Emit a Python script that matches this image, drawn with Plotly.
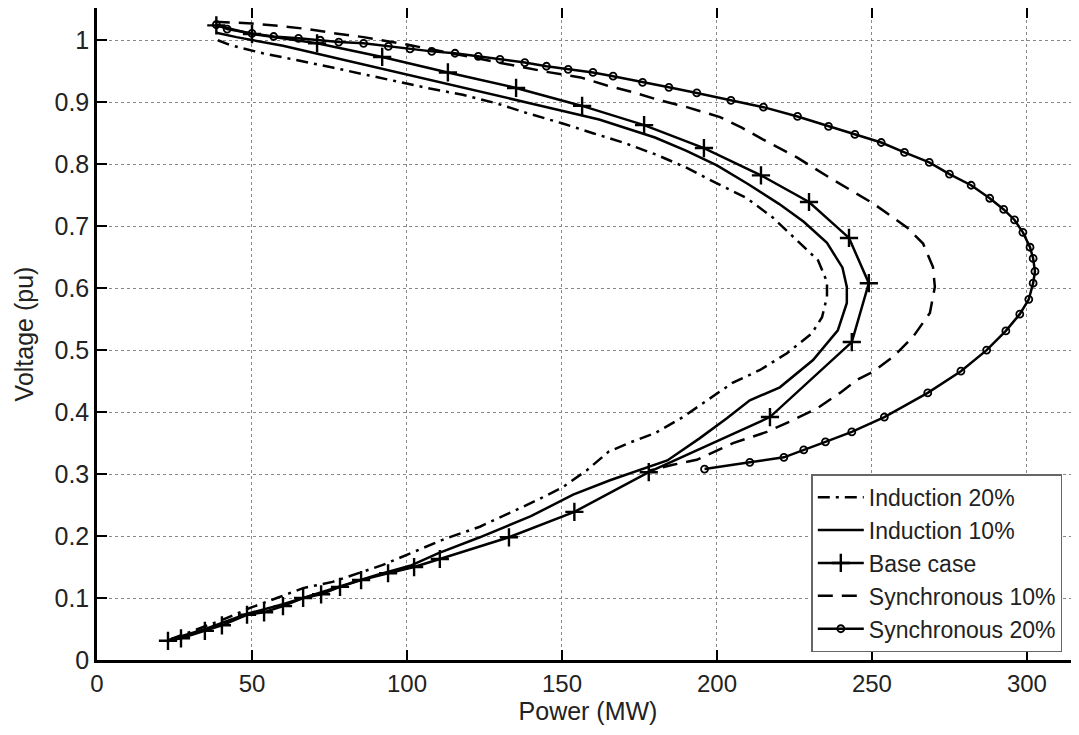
import plotly.graph_objects as go

# ---------------- data ----------------
ind20_P = [39, 43, 53.5, 64.5, 76, 87, 97.7, 107.4, 118, 129, 139, 150, 160, 170.3, 180.6,
           190.3, 200, 209.7, 218, 225.8, 232.6, 235.5, 235.5, 233.9, 230.6, 222.6, 213.9,
           205, 196.8, 189, 180, 172, 165, 158, 150, 142, 133, 123.5, 112, 101, 92, 76,
           66.5, 58, 49.4, 40.6, 30, 22.9]
ind20_V = [1.000, 0.992, 0.979, 0.968, 0.956, 0.944, 0.932, 0.922, 0.912, 0.898, 0.882,
           0.866, 0.850, 0.834, 0.815, 0.794, 0.769, 0.745, 0.714, 0.677, 0.645, 0.610,
           0.586, 0.553, 0.527, 0.495, 0.468, 0.447, 0.419, 0.392, 0.366, 0.351, 0.336,
           0.306, 0.278, 0.258, 0.237, 0.215, 0.195, 0.172, 0.153, 0.126, 0.116, 0.100,
           0.084, 0.065, 0.045, 0.032]

ind10_P = [38.5, 45, 60, 80, 100, 120, 140, 162, 180, 190, 200, 210, 220, 228, 235.5,
           240.5, 241.9, 241.9, 239, 231, 220.3, 210.6, 203.2, 194.5, 184, 165.5, 153.6,
           140, 123.5, 110, 101, 90, 75, 60, 48, 35, 22.9]
ind10_V = [1.012, 1.005, 0.991, 0.968, 0.945, 0.922, 0.898, 0.872, 0.843, 0.822, 0.798,
           0.768, 0.736, 0.707, 0.673, 0.633, 0.602, 0.576, 0.532, 0.484, 0.440, 0.419,
           0.390, 0.358, 0.322, 0.290, 0.267, 0.232, 0.198, 0.172, 0.152, 0.137, 0.113,
           0.090, 0.074, 0.050, 0.032]

base_P = [38.5, 50, 71, 92, 113.2, 135.2, 156.5, 176.5, 195.8, 214.2, 229.7, 242.6, 249,
          243.5, 217.1, 178, 154, 132.9, 110.6, 102.3, 93.9, 85.2, 78.4, 72.3, 66.5, 60,
          53.9, 48.4, 40.3, 34.8, 27.1, 22.9]
base_V = [1.024, 1.010, 0.995, 0.973, 0.948, 0.923, 0.894, 0.863, 0.826, 0.782, 0.739,
          0.681, 0.608, 0.513, 0.392, 0.303, 0.239, 0.198, 0.163, 0.150, 0.140, 0.129,
          0.118, 0.106, 0.100, 0.087, 0.077, 0.073, 0.056, 0.047, 0.035, 0.031]

sync10_P = [38, 50, 59, 68, 77, 86, 100, 115, 130, 145, 156, 164.5, 173, 181.6, 190.3,
            201, 208, 214.8, 225.8, 237.4, 250.3, 261.3, 266.5, 269.7, 270.3, 268.7,
            263.2, 256.8, 250.3, 245.2, 239.7, 232.3, 224.5, 216.1, 205.2, 193.5, 185.8,
            178.4]
sync10_V = [1.030, 1.027, 1.023, 1.018, 1.011, 1.005, 0.993, 0.978, 0.963, 0.949, 0.940,
            0.927, 0.916, 0.903, 0.892, 0.876, 0.859, 0.840, 0.811, 0.775, 0.737, 0.698,
            0.672, 0.634, 0.602, 0.560, 0.521, 0.489, 0.465, 0.452, 0.431, 0.406, 0.387,
            0.368, 0.350, 0.323, 0.315, 0.306]

sync20_P = [38.5, 42, 50, 57, 65, 72, 78, 86, 94, 101, 108, 115.5, 123, 130, 138, 145,
            152, 160, 166.5, 176, 184.5, 193.5, 204.5, 215, 226, 236, 244.5, 253, 260.5,
            268.5, 275, 282, 288, 292.5, 296, 298.7, 301, 302, 302.6, 302, 300.6, 297.7,
            293.2, 287, 278.7, 268, 254, 243.5, 235, 228, 221.6, 210.6, 196]
sync20_V = [1.025, 1.018, 1.011, 1.006, 1.003, 1.000, 0.997, 0.995, 0.990, 0.986, 0.982,
            0.979, 0.974, 0.969, 0.964, 0.958, 0.953, 0.948, 0.942, 0.932, 0.924, 0.915,
            0.903, 0.892, 0.877, 0.861, 0.848, 0.835, 0.819, 0.803, 0.784, 0.766, 0.745,
            0.727, 0.710, 0.690, 0.666, 0.648, 0.627, 0.608, 0.582, 0.558, 0.531, 0.500,
            0.466, 0.431, 0.392, 0.368, 0.352, 0.339, 0.327, 0.319, 0.308]

x_ticks = [0, 50, 100, 150, 200, 250, 300]
y_ticks = [0, 0.1, 0.2, 0.3, 0.4, 0.5, 0.6, 0.7, 0.8, 0.9, 1]
y_tick_text = ["0", "0.1", "0.2", "0.3", "0.4", "0.5", "0.6", "0.7", "0.8", "0.9", "1"]

# ---------------- figure ----------------
LW = 2.5
fig = go.Figure()
fig.add_trace(go.Scatter(x=ind20_P, y=ind20_V, mode="lines", name="Induction 20%",
                         line=dict(color="black", width=LW, dash="12px,6px,3px,6px")))
fig.add_trace(go.Scatter(x=ind10_P, y=ind10_V, mode="lines", name="Induction 10%",
                         line=dict(color="black", width=LW)))
fig.add_trace(go.Scatter(x=base_P, y=base_V, mode="lines+markers", name="Base case",
                         line=dict(color="black", width=LW),
                         marker=dict(symbol="cross-thin", size=13, color="black",
                                     line=dict(color="black", width=2.4))))
fig.add_trace(go.Scatter(x=sync10_P, y=sync10_V, mode="lines", name="Synchronous 10%",
                         line=dict(color="black", width=LW, dash="15px,9px")))
fig.add_trace(go.Scatter(x=sync20_P, y=sync20_V, mode="lines+markers", name="Synchronous 20%",
                         line=dict(color="black", width=LW),
                         marker=dict(symbol="circle-open", size=7, color="black",
                                     line=dict(color="black", width=1.8))))

font_family = "Liberation Sans, Arial, sans-serif"
fig.update_layout(
    width=1071, height=727,
    margin=dict(l=89, r=0, t=0, b=75, autoexpand=False),
    paper_bgcolor="white", plot_bgcolor="white",
    font=dict(family=font_family, color="#222", size=25),
    showlegend=True,
    legend=dict(x=0.983, y=0.012, xanchor="right", yanchor="bottom",
                bgcolor="white", bordercolor="#666", borderwidth=1.5,
                font=dict(size=23, family=font_family, color="#222"),
                tracegroupgap=0, itemwidth=46),
)
fig.update_xaxes(
    range=[0, 316.8], tickvals=x_ticks, ticks="inside", ticklen=10, tickwidth=2,
    tickcolor="black", showline=True, linecolor="black", linewidth=2.5, mirror="ticks",
    showgrid=True, gridcolor="#888", griddash="dot", gridwidth=1.2, zeroline=False,
    automargin=False,
    title=dict(text="Power (MW)", font=dict(size=25), standoff=4),
    tickfont=dict(size=24),
)
fig.update_yaxes(
    range=[0, 1.052], tickvals=y_ticks, ticktext=y_tick_text, ticks="inside", ticklen=10,
    tickwidth=2, tickcolor="black", showline=True, linecolor="black", linewidth=2.5,
    mirror=False, showgrid=True, gridcolor="#888", griddash="dot", gridwidth=1.2,
    zeroline=False, automargin=False,
    title=dict(text="Voltage (pu)", font=dict(size=25), standoff=14),
    tickfont=dict(size=25),
)

fig.write_html("out.html")
